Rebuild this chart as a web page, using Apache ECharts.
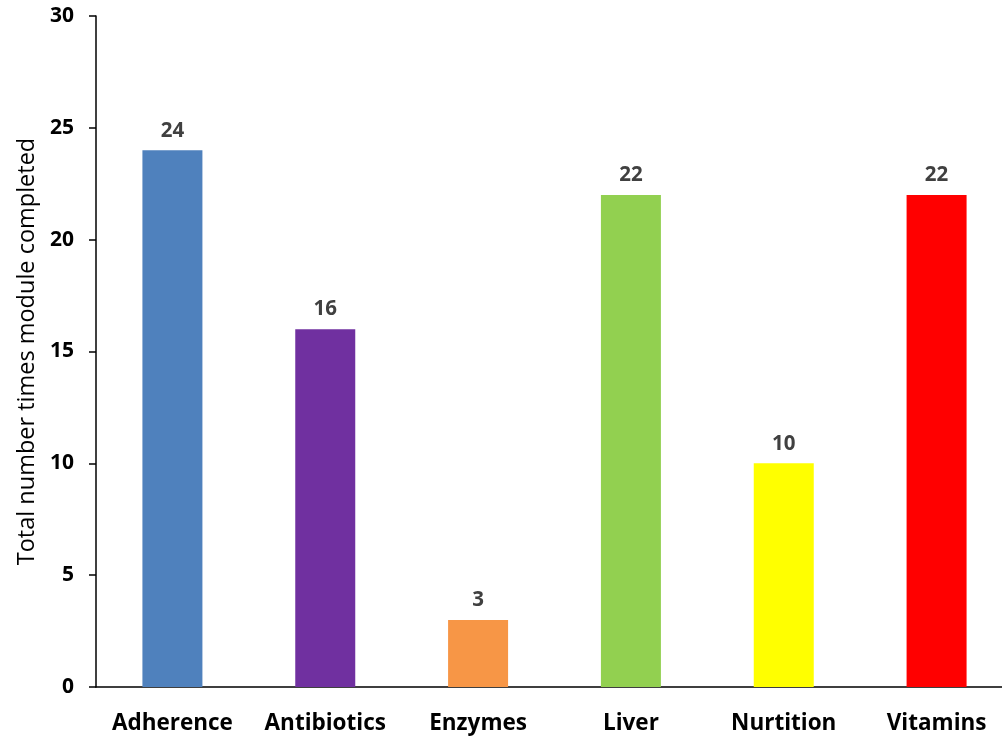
<!DOCTYPE html>
<html>
<head>
<meta charset="utf-8">
<script src="https://cdn.jsdelivr.net/npm/echarts@6/dist/echarts.min.js"></script>
<style>
  html, body { margin: 0; padding: 0; background: #fff; overflow: hidden; }
  #wrap { width: 1002px; height: 736px; overflow: hidden; }
  /* plot area runs slightly past the right edge of the view */
  #chart { width: 1013px; height: 736px; }
</style>
</head>
<body>
<div id="wrap"><div id="chart"></div></div>
<script>
// Module completion counts
var categories = ['Adherence', 'Antibiotics', 'Enzymes', 'Liver', 'Nurtition', 'Vitamins'];
var completions = [24, 16, 3, 22, 10, 22];
var barColors = ['#4F81BD', '#7030A0', '#F79646', '#92D050', '#FFFF00', '#FF0000'];

var chart = echarts.init(document.getElementById('chart'), null, { renderer: 'canvas' });

var FONT = '"Open Sans", "Noto Sans", sans-serif';

chart.setOption({
  animation: false,
  backgroundColor: '#ffffff',
  grid: { left: 96, right: 0, top: 16, bottom: 49, containLabel: false },
  xAxis: {
    type: 'category',
    data: categories,
    axisLine: { lineStyle: { color: '#000', width: 1.5 } },
    axisTick: { show: false },
    axisLabel: {
      interval: 0,
      margin: 25,
      color: '#000',
      fontFamily: FONT,
      fontWeight: 'bold',
      fontSize: 22.5
    }
  },
  yAxis: {
    type: 'value',
    min: 0,
    max: 30,
    interval: 5,
    name: 'Total number times module completed',
    nameLocation: 'middle',
    nameGap: 52,
    nameTextStyle: { color: '#000', fontFamily: FONT, fontSize: 23.5 },
    axisLine: { show: true, lineStyle: { color: '#000', width: 1.5 } },
    axisTick: { show: true, length: 7, lineStyle: { color: '#000', width: 1.5 } },
    splitLine: { show: false },
    axisLabel: {
      margin: 22,
      color: '#000',
      fontFamily: FONT,
      fontWeight: 'bold',
      fontSize: 21
    }
  },
  series: [{
    type: 'bar',
    barWidth: 60,
    data: completions.map(function (v, i) {
      return { value: v, itemStyle: { color: barColors[i] } };
    }),
    label: {
      show: true,
      position: 'top',
      distance: 9,
      color: '#404040',
      fontFamily: FONT,
      fontWeight: 'bold',
      fontSize: 20.5
    }
  }]
});
</script>
</body>
</html>
